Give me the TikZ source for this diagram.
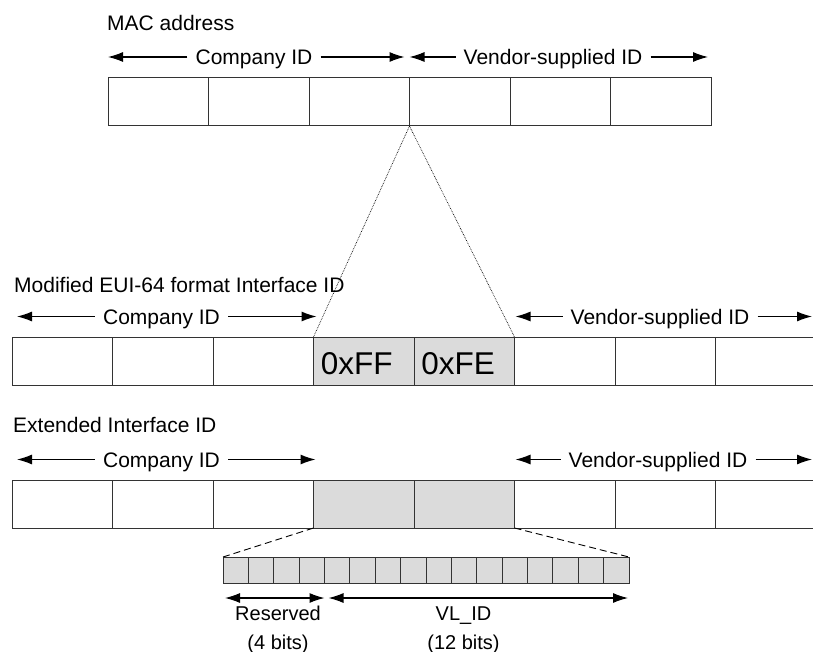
\documentclass[tikz,border=0pt]{standalone}
\usepackage{fontspec}
\setmainfont{Liberation Sans}
\usetikzlibrary{positioning}
\usetikzlibrary{arrows.meta}

\tikzset{
    cell/.style={draw=black!80, line width=1pt, rectangle, minimum width=100.5pt, minimum height=48pt, inner sep=0pt, outer sep=0pt},
    graycell/.style={cell, fill=black!14},
    hexcell/.style={graycell, font=\fontsize{31.5}{36}\selectfont, text width=86pt, align=left, text height=27pt, text depth=0pt},
    bitcell/.style={graycell, minimum width=25.375pt, minimum height=26pt},
    title/.style={font=\fontsize{21}{25}\selectfont, inner sep=0pt, anchor=base west},
    span/.style={font=\fontsize{21}{25}\selectfont, inner ysep=0pt, inner xsep=8pt, text height=17pt, text depth=1pt},
    small/.style={font=\fontsize{20}{24}\selectfont, inner sep=0pt, anchor=base},
    arr/.style={-{Latex[length=15pt, width=10pt]}, line width=1.1pt},
    bothway/.style={{Latex[length=15pt, width=10pt]}-{Latex[length=15pt, width=10pt]}, line width=1.1pt},
    zoomline/.style={densely dotted, line width=0.7pt},
    bitline/.style={dash pattern=on 7pt off 4pt, line width=0.9pt},
}

\begin{document}
\begin{tikzpicture}[x=1pt, y=-1pt]

    \useasboundingbox (0,0) rectangle (813,652);

    % MAC address
    \node(mac)[title] at (107,31) {MAC address};
    \node(M1)[cell, anchor=north west] at (108,78) {};
    \node(M2)[cell, right=0pt of M1]{};
    \node(M3)[cell, right=0pt of M2]{};
    \node(M4)[cell, right=0pt of M3]{};
    \node(M5)[cell, right=0pt of M4]{};
    \node(M6)[cell, right=0pt of M5]{};

    \node(cidM)[span] at (254,57) {Company ID};
    \node(vidM)[span] at (553,57) {Vendor-supplied ID};
    \draw[arr] (cidM.west) -- (cidM.west -| M1.west);
    \draw[arr] (cidM.east) -- ([xshift=-5pt]M3.east |- cidM.east);
    \draw[arr] (vidM.west) -- (vidM.west -| M4.west);
    \draw[arr] (vidM.east) -- ([xshift=-3pt]M6.east |- vidM.east);

    % Modified EUI-64
    \node(eui)[title] at (14,292) {Modified EUI-64 format Interface ID};
    \node(E1)[cell, anchor=north west] at (12,337) {};
    \node(E2)[cell, right=0pt of E1]{};
    \node(E3)[cell, right=0pt of E2]{};
    \node(E4)[hexcell, right=0pt of E3]{0xFF};
    \node(E5)[hexcell, right=0pt of E4]{0xFE};
    \node(E6)[cell, right=0pt of E5]{};
    \node(E7)[cell, right=0pt of E6]{};
    \node(E8)[cell, right=0pt of E7]{};

    \node(cidE)[span] at (161.5,316.5) {Company ID};
    \node(vidE)[span] at (660,316.5) {Vendor-supplied ID};
    \draw[arr] (cidE.west) -- ([xshift=5pt]E1.west |- cidE.west);
    \draw[arr] (cidE.east) -- ([xshift=3pt]E4.west |- cidE.east);
    \draw[arr] (vidE.west) -- ([xshift=1pt]E6.west |- vidE.west);
    \draw[arr] (vidE.east) -- ([xshift=-4pt]E8.east |- vidE.east);

    \draw[zoomline] (M3.south east) -- (E4.north west);
    \draw[zoomline] (M3.south east) -- (E5.north east);

    % Extended Interface ID
    \node(ext)[title] at (13,432) {Extended Interface ID};
    \node(X1)[cell, anchor=north west] at (12,480) {};
    \node(X2)[cell, right=0pt of X1]{};
    \node(X3)[cell, right=0pt of X2]{};
    \node(X4)[graycell, right=0pt of X3]{};
    \node(X5)[graycell, right=0pt of X4]{};
    \node(X6)[cell, right=0pt of X5]{};
    \node(X7)[cell, right=0pt of X6]{};
    \node(X8)[cell, right=0pt of X7]{};

    \node(cidX)[span] at (161.5,459.5) {Company ID};
    \node(vidX)[span] at (658,459.5) {Vendor-supplied ID};
    \draw[arr] (cidX.west) -- ([xshift=5pt]X1.west |- cidX.west);
    \draw[arr] (cidX.east) -- ([xshift=2pt]X4.west |- cidX.east);
    \draw[arr] (vidX.west) -- ([xshift=1pt]X6.west |- vidX.west);
    \draw[arr] (vidX.east) -- ([xshift=-4pt]X8.east |- vidX.east);

    % 16 bits
    \node(B1)[bitcell, anchor=north west] at (223,557) {};
    \foreach \i [remember=\i as \j (initially 1)] in {2,...,16}
        \node(B\i)[bitcell, right=0pt of B\j]{};

    \draw[bitline] (X4.south west) -- (B1.north west);
    \draw[bitline] (X5.south east) -- (B16.north east);

    \coordinate(rsv) at (B4.east |- 0,598);
    \draw[bothway] ([xshift=2pt]B1.west |- rsv) -- (rsv);
    \draw[bothway] ([xshift=4pt]rsv) -- ([xshift=-1pt]B16.east |- rsv);

    \node(rsvT)[small] at (278,620) {Reserved};
    \node(rsvB)[small] at (278,649) {(4 bits)};
    \node(vlT)[small] at (463.5,620) {VL\_ID};
    \node(vlB)[small] at (463.5,649) {(12 bits)};

\end{tikzpicture}
\end{document}
